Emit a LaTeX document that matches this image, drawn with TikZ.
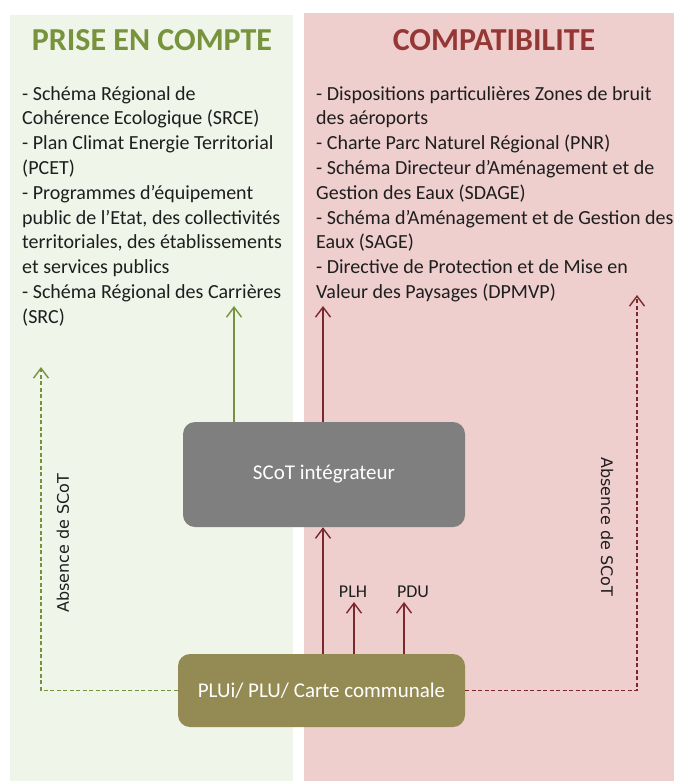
\documentclass[tikz,border=0pt]{standalone}
\usepackage{fontspec}
\setmainfont{Carlito}
\newfontfamily\dejavu{DejaVu Sans}
\usetikzlibrary{arrows.meta}
\definecolor{leftbg}{RGB}{240,245,233}
\definecolor{rightbg}{RGB}{239,206,206}
\definecolor{gtitle}{RGB}{119,147,60}
\definecolor{rtitle}{RGB}{149,55,53}
\definecolor{garrow}{RGB}{118,146,62}
\definecolor{rarrow}{RGB}{122,40,45}
\definecolor{boxgray}{RGB}{127,127,127}
\definecolor{boxolive}{RGB}{148,138,84}
\definecolor{txt}{RGB}{30,30,30}
\begin{document}
\begin{tikzpicture}[x=1pt,y=-1pt,
  titlestyle/.style={font=\bfseries\fontsize{32}{38}\selectfont, inner sep=0pt},
  listtxt/.style={font=\fontsize{20}{24.8}\selectfont, text=txt, align=left, inner sep=0pt, anchor=north west},
  boxstyle/.style={rounded corners=12pt, text=white, font=\fontsize{21}{25}\selectfont, inner sep=0pt},
  tipped/.style={-{Straight Barb[length=10pt,width=15pt]}},
  garr/.style={tipped, draw=garrow, line width=1.4pt},
  rarr/.style={tipped, draw=rarrow, line width=1.4pt},
  dashline/.style={dash pattern=on 4pt off 2.5pt},
  abs/.style={font=\dejavu\fontsize{16}{19}\selectfont, text=txt, inner sep=0pt},
  small/.style={font=\fontsize{18}{21}\selectfont, text=txt, inner sep=0pt}
]
\useasboundingbox (0,0) rectangle (674,781);
\fill[white] (0,0) rectangle (674,781);
\fill[leftbg] (10,15) rectangle (293,781);
\fill[rightbg] (304,13) rectangle (674,781);

\node[titlestyle, text=gtitle] (t1) at (152,40) {PRISE EN COMPTE};
\node[titlestyle, text=rtitle] (t2) at (494,40) {COMPATIBILITE};

\node[listtxt] (lt) at (22,86) {- Schéma Régional de\\
Cohérence Ecologique (SRCE)\\
- Plan Climat Energie Territorial\\
(PCET)\\
- Programmes d’équipement\\
public de l’Etat, des collectivités\\
territoriales, des établissements\\
et services publics\\
- Schéma Régional des Carrières\\
(SRC)};

\node[listtxt] (rt) at (316,86) {- Dispositions particulières Zones de bruit\\
des aéroports\\
- Charte Parc Naturel Régional (PNR)\\
- Schéma Directeur d’Aménagement et de\\
Gestion des Eaux (SDAGE)\\
- Schéma d’Aménagement et de Gestion des\\
Eaux (SAGE)\\
- Directive de Protection et de Mise en\\
Valeur des Paysages (DPMVP)};

\node[boxstyle, fill=boxgray, minimum width=282pt, minimum height=105pt] (scot) at (324,474.5) {SCoT intégrateur};
\node[boxstyle, fill=boxolive, minimum width=287pt, minimum height=73pt] (plu) at (321.5,690.5) {PLUi/ PLU/ Carte communale};

\coordinate (gtip) at (234,306);
\coordinate (rtip) at (323,306);
\coordinate (hx) at (354,602);
\coordinate (dx) at (404,602);
\coordinate (gl) at (41,367);
\coordinate (rr) at (637,295);

\draw[garr] (scot.north -| gtip) -- (gtip);
\draw[rarr] (scot.north -| rtip) -- (rtip);
\draw[rarr] (plu.north -| rtip) -- (scot.south -| rtip);
\draw[rarr] (plu.north -| hx) -- (hx);
\draw[rarr] (plu.north -| dx) -- (dx);

\node[small] (plh) at (353,592) {PLH};
\node[small] (pdu) at (413,592) {PDU};

\draw[garr, dashline] (plu.west) -| (gl);
\draw[rarr, dashline] (plu.east) -| (rr);

\node[abs, rotate=90] (a1) at (63,543) {Absence de SCoT};
\node[abs, rotate=-90] (a2) at (607,527) {Absence de SCoT};
\end{tikzpicture}
\end{document}
